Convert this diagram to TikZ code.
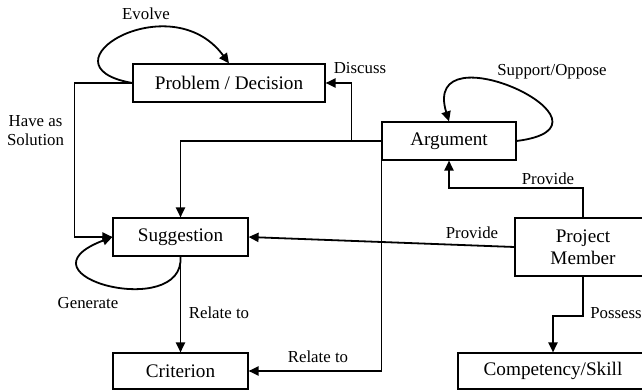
\documentclass[tikz,border=0pt]{standalone}
\usepackage{fontspec}
\setmainfont{Liberation Serif}
\usetikzlibrary{arrows.meta}

\begin{document}
\begin{tikzpicture}[
    x=0.5pt, y=0.5pt,
    >={Triangle[length=5pt, width=4.6pt]},
    box style/.style={draw, line width=0.6pt, inner sep=0pt, minimum height=19pt,
        font=\fontsize{9.6}{11}\selectfont, align=center},
    link style/.style={->, line width=0.9pt},
    label style/.style={font=\fontsize{8.4}{9.5}\selectfont, inner sep=0pt, align=center}
]
    \useasboundingbox (0,0) rectangle (642,391);

    % Entities
    \node[box style, minimum width=96pt] (problem) at (229,308) {Problem / Decision};
    \node[box style, minimum width=67pt] (argument) at (449,250) {Argument};
    \node[box style, minimum width=67.5pt] (suggestion) at (180.5,154) {Suggestion};
    \node[box style, minimum width=67.5pt, minimum height=18pt] (criterion) at (180.5,20) {Criterion};
    \node[box style, minimum width=68pt, minimum height=29pt] (member) at (583,144) {Project\\Member};
    \node[box style, minimum width=95pt, minimum height=18pt] (skill) at (553,20) {Competency/Skill};

    % Self loops
    \draw[link style] (problem.west) .. controls (35,325) and (170,408) .. (problem.north);
    \node[label style] (evolve) at (146,377) {Evolve};

    \draw[link style] (argument.east) .. controls (635,265) and (420,365) .. (argument.north);
    \node[label style] (supopp) at (552,319) {Support/Oppose};

    \draw[link style] (suggestion.south) .. controls (185,70) and (10,115) .. (suggestion.west);
    \node[label style] (generate) at (88,88) {Generate};

    % Relations
    \draw[link style] (problem.west) -- ++(-58,0) |- (suggestion.west);
    \node[label style] (solution) at (35.5,260.5) {Have as\\Solution};

    \draw[link style] (argument.west) -- ++(-30,0) |- (problem.east);
    \node[label style] (discuss) at (360,323) {Discuss};

    \draw[link style] (argument.west) -| (suggestion.north);

    \draw[link style] (argument.south west) |- (criterion.east);
    \node[label style] (relarg) at (318,34) {Relate to};

    \draw[link style] (suggestion.south) -- (criterion.north);
    \node[label style] (relsug) at (219,78) {Relate to};

    \draw[link style] (member.north) -- ++(0,29) -| (argument.south);
    \node[label style] (provarg) at (548,212) {Provide};

    \draw[link style] (member.west) -- (suggestion.east);
    \node[label style] (provsug) at (472,158) {Provide};

    \draw[link style] (member.south) -- ++(0,-39) -| (skill.north);
    \node[label style, anchor=west] (possess) at (590,78) {Possess};

\end{tikzpicture}
\end{document}
